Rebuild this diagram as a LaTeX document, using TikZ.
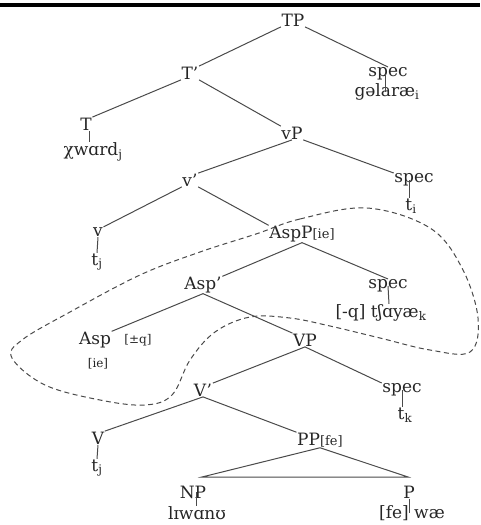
\documentclass[tikz,border=0pt]{standalone}
\usepackage{fontspec}
\setmainfont{DejaVu Serif}
\definecolor{txt}{HTML}{262626}
\definecolor{ln}{HTML}{4A4A4A}
\begin{document}
\begin{tikzpicture}[x=1pt,y=-1pt,
  lab/.style={inner sep=0.5pt, text=txt, font=\fontsize{17}{19}\selectfont},
  sm/.style={inner sep=0.5pt, text=txt, font=\fontsize{12}{14}\selectfont},
  br/.style={draw=ln, line width=1pt},
  loopline/.style={draw=ln, dash pattern=on 5pt off 3.5pt, line width=1pt}]
\useasboundingbox (0,0) rectangle (480,525);
\fill[black] (0,3) rectangle (480,7);
% nodes
\node[lab] (TP) at (293,20) {TP};
\node[lab] (Tb) at (190,73) {T'};
\node[lab] (sA) at (388,74) {spec};
\node[lab] (gal) at (387,92) {gəlaræ\textsubscript{i}};
\node[lab] (T) at (86,124) {T};
\node[lab] (chw) at (93,152) {χwɑrd\textsubscript{j}};
\node[lab] (vP) at (292,133) {vP};
\node[lab] (vb) at (190,180) {v'};
\node[lab] (sB) at (414,180) {spec};
\node[lab] (ti) at (411,206) {t\textsubscript{i}};
\node[lab] (v) at (98,232) {v};
\node[lab] (tja) at (97,262) {t\textsubscript{j}};
\node[lab] (AspP) at (302,234) {AspP{\fontsize{13}{14}\selectfont[ie]}};
\node[lab] (Aspb) at (203,285) {Asp'};
\node[lab] (sC) at (388,286) {spec};
\node[lab] (tsh) at (381,313) {[-q] tʃɑyæ\textsubscript{k}};
\node[lab] (Asp) at (95,340) {Asp};
\node[sm] (pmq) at (138,340) {[±q]};
\node[sm] (ie) at (98,364) {[ie]};
\node[lab] (VP) at (305,340) {VP};
\node[lab] (Vb) at (203,390) {V'};
\node[lab] (sD) at (402,390) {spec};
\node[lab] (tk) at (405,415) {t\textsubscript{k}};
\node[lab] (V) at (98,438) {V};
\node[lab] (tjb) at (97,468) {t\textsubscript{j}};
\node[lab] (PP) at (320,440) {PP{\fontsize{13}{14}\selectfont[fe]}};
\node[lab] (NP) at (193,492) {NP};
\node[lab] (liw) at (197,513) {lɪwɑnʊ};
\node[lab] (P) at (409,492) {P};
\node[lab] (few) at (412,513) {[fe] wæ};
\coordinate (triL) at (202,477);
\coordinate (triR) at (408,477);
% branches
\draw[br] (TP.south west) -- (Tb.north east);
\draw[br] (TP.south east) -- (sA.north);
\draw[br] (Tb.south west) -- (T.north east);
\draw[br] (Tb.south east) -- (vP.north west);
\draw[br] (vP.south) -- (vb.north east);
\draw[br] (vP.south east) -- (sB.north west);
\draw[br] (vb.south west) -- (v.north east);
\draw[br] (vb.south east) -- (AspP.north west);
\draw[br] (AspP.south) -- (Aspb.north east);
\draw[br] (AspP.south) -- (sC.north);
\draw[br] (Aspb.south) -- (Asp.north east);
\draw[br] (Aspb.south) -- (VP.north west);
\draw[br] (VP.south) -- (Vb.north east);
\draw[br] (VP.south) -- (sD.north west);
\draw[br] (Vb.south) -- (V.north east);
\draw[br] (Vb.south) -- (PP.north west);
\draw[br] (PP.south) -- (triL) -- (triR) -- (PP.south);
% vertical lines to terminals
\draw[br] ([xshift=-3pt]sA.center) -- ([xshift=-2pt]gal.center);
\draw[br] ([xshift=3pt]T.south) -- ([xshift=-4pt]chw.north);
\draw[br] ([xshift=-5pt]sB.center) -- ([xshift=-2pt]ti.north);
\draw[br] (v.south) -- (tja.north);
\draw[br] (sC.center) -- ([xshift=8pt]tsh.north);
\draw[br] (sD.center) -- ([xshift=-3pt]tk.north);
\draw[br] (V.south) -- (tjb.north);
\draw[br] ([xshift=3pt]NP.center) -- ([xshift=-1pt]liw.north);
\draw[br] (P.south) -- ([xshift=-3pt]few.center);
% dashed loop
\draw[loopline] plot[smooth cycle, tension=0.6] coordinates {
  (256,234) (300,219) (367,208) (430,228) (462,268) (478,318) (470,352)
  (430,350) (380,338) (330,326) (290,318) (250,317) (215,332) (190,360)
  (172,395) (145,405) (100,400) (45,385) (12,358) (22,340) (70,312)
  (140,275) (200,252)};
\end{tikzpicture}
\end{document}
